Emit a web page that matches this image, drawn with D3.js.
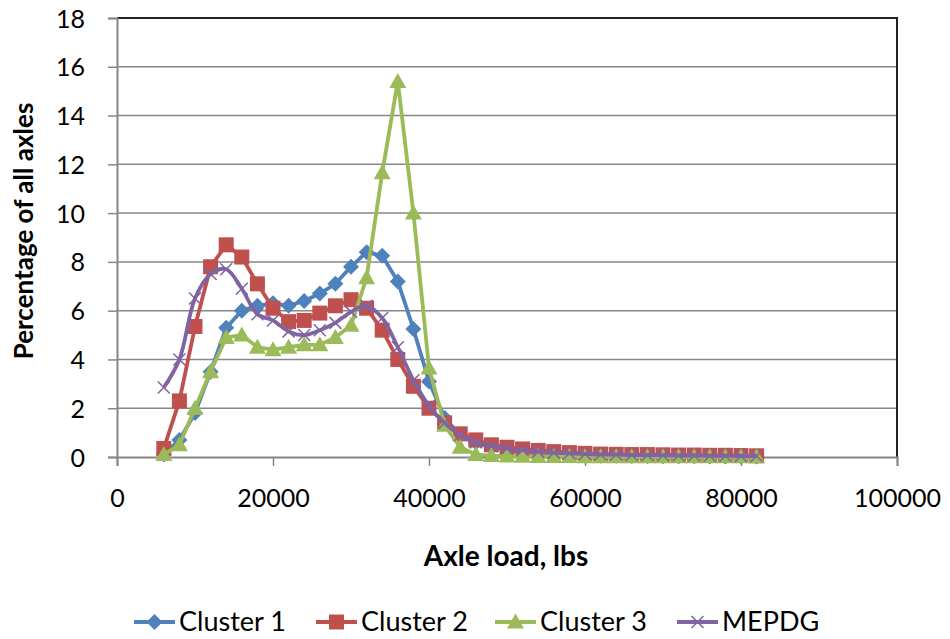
<!DOCTYPE html>
<html>
<head>
<meta charset="utf-8">
<script src="https://cdn.jsdelivr.net/npm/d3@7"></script>
<style>
  html, body { margin: 0; padding: 0; background: #fff; }
  svg { display: block; font-family: Lato, "Open Sans", sans-serif; }
</style>
</head>
<body>
<svg id="chart" width="950" height="639"></svg>
<script>
const axleLoad = [6000, 8000, 10000, 12000, 14000, 16000, 18000, 20000, 22000, 24000,
  26000, 28000, 30000, 32000, 34000, 36000, 38000, 40000, 42000, 44000,
  46000, 48000, 50000, 52000, 54000, 56000, 58000, 60000, 62000, 64000,
  66000, 68000, 70000, 72000, 74000, 76000, 78000, 80000, 82000];

const cluster1 = [0.1, 0.7, 1.8, 3.5, 5.3, 6.0, 6.2, 6.3, 6.2, 6.4,
  6.7, 7.1, 7.8, 8.4, 8.25, 7.2, 5.25, 3.1, 1.6, 0.9,
  0.6, 0.45, 0.3, 0.2, 0.15, 0.1, 0.08, 0.06, 0.05, 0.05,
  0.04, 0.04, 0.03, 0.03, 0.03, 0.02, 0.02, 0.02, 0.02];

const cluster2 = [0.35, 2.3, 5.35, 7.8, 8.7, 8.2, 7.1, 6.1, 5.55, 5.6,
  5.9, 6.2, 6.45, 6.1, 5.2, 4.0, 2.9, 2.0, 1.4, 0.95,
  0.7, 0.5, 0.4, 0.33, 0.27, 0.22, 0.18, 0.15, 0.12, 0.11,
  0.1, 0.1, 0.09, 0.08, 0.08, 0.07, 0.07, 0.06, 0.05];

const cluster3 = [0.1, 0.5, 2.0, 3.5, 4.9, 5.0, 4.5, 4.4, 4.5, 4.6,
  4.6, 4.9, 5.4, 7.35, 11.65, 15.4, 10.0, 3.65, 1.3, 0.4,
  0.1, 0.06, 0.04, 0.03, 0.02, 0.02, 0.02, 0.01, 0.01, 0.01,
  0.01, 0.01, 0.01, 0.01, 0.01, 0.01, 0.01, 0.01, 0.01];

const mepdg = [2.85, 4.0, 6.5, 7.5, 7.7, 6.9, 5.85, 5.6, 5.15, 5.0,
  5.2, 5.5, 5.95, 6.2, 5.7, 4.5, 3.15, 2.1, 1.4, 0.9,
  0.6, 0.45, 0.35, 0.28, 0.22, 0.18, 0.15, 0.12, 0.1, 0.1,
  0.08, 0.08, 0.07, 0.06, 0.06, 0.05, 0.05, 0.04, 0.04];

const seriesNames = ["Cluster 1", "Cluster 2", "Cluster 3", "MEPDG"];
const xTicks = [0, 20000, 40000, 60000, 80000, 100000];
const yTicks = [0, 2, 4, 6, 8, 10, 12, 14, 16, 18];

const series = [
  { name: seriesNames[0], values: cluster1, color: "#4F81BD", marker: "diamond", smooth: false },
  { name: seriesNames[1], values: cluster2, color: "#C0504D", marker: "square", smooth: false },
  { name: seriesNames[2], values: cluster3, color: "#9BBB59", marker: "triangle", smooth: false },
  { name: seriesNames[3], values: mepdg, color: "#8064A2", marker: "x", smooth: true }
];

const svg = d3.select("#chart");
const plot = { left: 117, right: 897, top: 18, bottom: 457 };

const x = d3.scaleLinear().domain([0, 100000]).range([plot.left, plot.right]);
const y = d3.scaleLinear().domain([0, 18]).range([plot.bottom, plot.top]);

const gridColor = "#868686";

// gridlines
svg.append("g")
  .selectAll("line")
  .data(yTicks.filter(d => d > 0 && d < 18))
  .join("line")
  .attr("x1", plot.left).attr("x2", plot.right)
  .attr("y1", d => y(d)).attr("y2", d => y(d))
  .attr("stroke", gridColor).attr("stroke-width", 1.5);

// plot border (top and right)
svg.append("path")
  .attr("d", `M${plot.left},${plot.top}H${plot.right}V${plot.bottom}`)
  .attr("fill", "none").attr("stroke", "#222").attr("stroke-width", 2);

// y axis
const yAxis = svg.append("g")
  .attr("transform", `translate(${plot.left},0)`)
  .call(d3.axisLeft(y).tickValues(yTicks).tickSize(9).tickPadding(23).tickFormat(d3.format("d")));
yAxis.select(".domain").attr("stroke", gridColor).attr("stroke-width", 2);
yAxis.selectAll(".tick line").attr("stroke", gridColor).attr("stroke-width", 1.5);
yAxis.selectAll(".tick text").attr("font-size", 25).attr("fill", "#000")
  .attr("font-family", "Lato, sans-serif").attr("dy", "0.36em");

// x axis
const xAxis = svg.append("g")
  .attr("transform", `translate(0,${plot.bottom})`)
  .call(d3.axisBottom(x).tickValues(xTicks).tickSize(9).tickPadding(28).tickFormat(d3.format("d")));
xAxis.select(".domain").attr("stroke", gridColor).attr("stroke-width", 2);
xAxis.selectAll(".tick line").attr("stroke", gridColor).attr("stroke-width", 1.5);
xAxis.selectAll(".tick text").attr("font-size", 25).attr("fill", "#000")
  .attr("font-family", "Lato, sans-serif").attr("dy", "0.5em");

// axis titles
svg.append("text")
  .attr("x", 506).attr("y", 566)
  .attr("text-anchor", "middle").attr("font-weight", "bold").attr("font-size", 28)
  .text("Axle load, lbs");

svg.append("text")
  .attr("transform", `translate(33,231) rotate(-90)`)
  .attr("text-anchor", "middle").attr("font-weight", "bold").attr("font-size", 26)
  .text("Percentage of all axles");

// markers
function markerPath(type) {
  if (type === "diamond") return "M0,-8L8,0L0,8L-8,0Z";
  if (type === "square") return "M-7.5,-7.5H7.5V7.5H-7.5Z";
  if (type === "triangle") return "M0,-8.5L8.5,6.5H-8.5Z";
  return "M-6,-6L6,6M-6,6L6,-6";
}

const seriesG = svg.append("g");
series.forEach(s => {
  const pts = axleLoad.map((a, i) => [a, s.values[i]]);
  const line = d3.line()
    .x(d => x(d[0])).y(d => y(d[1]))
    .curve(s.smooth ? d3.curveCatmullRom.alpha(0.5) : d3.curveLinear);
  const g = seriesG.append("g");
  g.append("path").datum(pts)
    .attr("d", line).attr("fill", "none")
    .attr("stroke", s.color).attr("stroke-width", 3.8)
    .attr("stroke-linejoin", "round");
  g.selectAll("path.m").data(pts).join("path")
    .attr("class", "m")
    .attr("transform", d => `translate(${x(d[0])},${y(d[1])})`)
    .attr("d", markerPath(s.marker))
    .attr("fill", s.marker === "x" ? "none" : s.color)
    .attr("stroke", s.color)
    .attr("stroke-width", s.marker === "x" ? 1.5 : 0);
});

// legend
const legendItems = [
  { s: series[0], x0: 134 },
  { s: series[1], x0: 316 },
  { s: series[2], x0: 495 },
  { s: series[3], x0: 677 }
];
const ly = 622;
const lg = svg.append("g");
legendItems.forEach(it => {
  const g = lg.append("g").attr("transform", `translate(${it.x0},${ly})`);
  g.append("line").attr("x1", 0).attr("x2", 41).attr("y1", 0).attr("y2", 0)
    .attr("stroke", it.s.color).attr("stroke-width", 3.8);
  g.append("path").attr("transform", "translate(20.5,0)")
    .attr("d", markerPath(it.s.marker))
    .attr("fill", it.s.marker === "x" ? "none" : it.s.color)
    .attr("stroke", it.s.color).attr("stroke-width", it.s.marker === "x" ? 1.5 : 0);
  g.append("text").attr("x", 45).attr("y", 0).attr("dy", "0.35em")
    .attr("font-size", 27).attr("fill", "#000").text(it.s.name);
});
</script>
</body>
</html>
